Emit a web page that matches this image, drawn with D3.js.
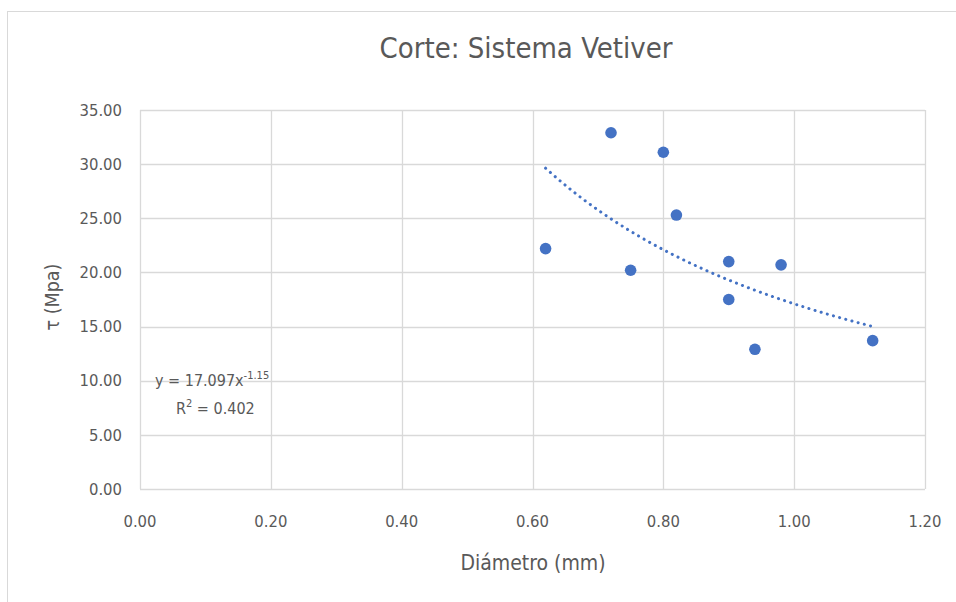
<!DOCTYPE html>
<html>
<head>
<meta charset="utf-8">
<script src="https://cdn.jsdelivr.net/npm/d3@7"></script>
<style>
  body { margin: 0; background: #fff; }
  text { font-family: "DejaVu Sans Condensed", "Open Sans", sans-serif; fill: #595959; }
</style>
</head>
<body>
<div id="vis"></div>
<script>
// measured points: diameter (mm) vs shear stress (MPa)
var diametro = [0.62, 0.72, 0.75, 0.80, 0.82, 0.90, 0.90, 0.94, 0.98, 1.12];
var tau = [22.2, 32.9, 20.2, 31.1, 25.3, 21.0, 17.5, 12.9, 20.7, 13.7];

var xTicks = [0, 0.2, 0.4, 0.6, 0.8, 1.0, 1.2];
var yTicks = [0, 5, 10, 15, 20, 25, 30, 35];

// power trendline shown in the chart: y = a * x^b
var trendA = 17.097, trendB = -1.15, trendR2 = 0.402;

var width = 956, height = 602;
var margin = {top: 110, right: 31, bottom: 113, left: 140};

var x = d3.scaleLinear()
    .domain([0, 1.2])
    .range([margin.left, width - margin.right]);

var y = d3.scaleLinear()
    .domain([0, 35])
    .range([height - margin.bottom, margin.top]);

var svg = d3.select('#vis').append('svg')
    .attr('width', width)
    .attr('height', height);

// chart frame (runs off the page at right/bottom like the screenshot)
svg.append('rect')
    .attr('x', 7.5).attr('y', 11.5)
    .attr('width', 1000).attr('height', 700)
    .attr('fill', 'none')
    .attr('stroke', '#d9d9d9');

// gridlines
svg.append('g')
    .selectAll('line')
    .data(yTicks)
    .enter()
    .append('line')
        .attr('x1', x(0)).attr('x2', x(1.2))
        .attr('y1', d => Math.round(y(d)) + 0.5)
        .attr('y2', d => Math.round(y(d)) + 0.5)
        .attr('stroke', '#d9d9d9')
        .attr('stroke-width', 1.3);

svg.append('g')
    .selectAll('line')
    .data(xTicks)
    .enter()
    .append('line')
        .attr('y1', y(0)).attr('y2', y(35))
        .attr('x1', d => Math.round(x(d)) + 0.5)
        .attr('x2', d => Math.round(x(d)) + 0.5)
        .attr('stroke', '#d9d9d9')
        .attr('stroke-width', 1.3);

// tick labels
svg.append('g')
    .selectAll('text')
    .data(yTicks)
    .enter()
    .append('text')
        .attr('x', x(0) - 18)
        .attr('y', d => y(d))
        .attr('dy', '0.35em')
        .attr('text-anchor', 'end')
        .style('font-size', '16.5px')
        .text(d => d3.format('.2f')(d));

svg.append('g')
    .selectAll('text')
    .data(xTicks)
    .enter()
    .append('text')
        .attr('x', d => x(d))
        .attr('y', y(0) + 38)
        .attr('text-anchor', 'middle')
        .style('font-size', '16.5px')
        .text(d => d3.format('.2f')(d));

// trendline
var xmin = d3.min(diametro), xmax = d3.max(diametro);
var trendX = d3.range(0, 51).map(i => xmin + (xmax - xmin) * i / 50);
svg.append('path')
    .datum(trendX)
    .attr('fill', 'none')
    .attr('stroke', '#4472c4')
    .attr('stroke-width', 3)
    .attr('stroke-linecap', 'round')
    .attr('stroke-dasharray', '0.1 6.3')
    .attr('d', d3.line()
        .x(d => x(d))
        .y(d => y(trendA * Math.pow(d, trendB))));

// points
svg.append('g')
    .selectAll('circle')
    .data(diametro)
    .enter()
    .append('circle')
        .attr('cx', d => x(d))
        .attr('cy', (d, i) => y(tau[i]))
        .attr('r', 5.8)
        .attr('fill', '#4472c4');

// equation label
var eq = svg.append('text')
    .attr('x', 155)
    .attr('y', 386)
    .style('font-size', '16px');
eq.append('tspan').text('y = ' + trendA + 'x');
eq.append('tspan')
    .attr('dy', -7)
    .style('font-size', '11px')
    .text(trendB);

var r2 = svg.append('text')
    .attr('x', 176)
    .attr('y', 414)
    .style('font-size', '16px');
r2.append('tspan').text('R');
r2.append('tspan').attr('dy', -7).style('font-size', '11px').text('2');
r2.append('tspan').attr('dy', 7).text(' = ' + trendR2);

// titles
svg.append('text')
    .attr('x', 526)
    .attr('y', 58)
    .attr('text-anchor', 'middle')
    .style('font-size', '29px')
    .text('Corte: Sistema Vetiver');

svg.append('text')
    .attr('x', 533)
    .attr('y', 570)
    .attr('text-anchor', 'middle')
    .style('font-size', '21px')
    .text('Diámetro (mm)');

svg.append('text')
    .attr('transform', 'translate(59,' + 297 + ') rotate(-90)')
    .attr('text-anchor', 'middle')
    .style('font-size', '19.5px')
    .text('τ (Mpa)');
</script>
</body>
</html>
